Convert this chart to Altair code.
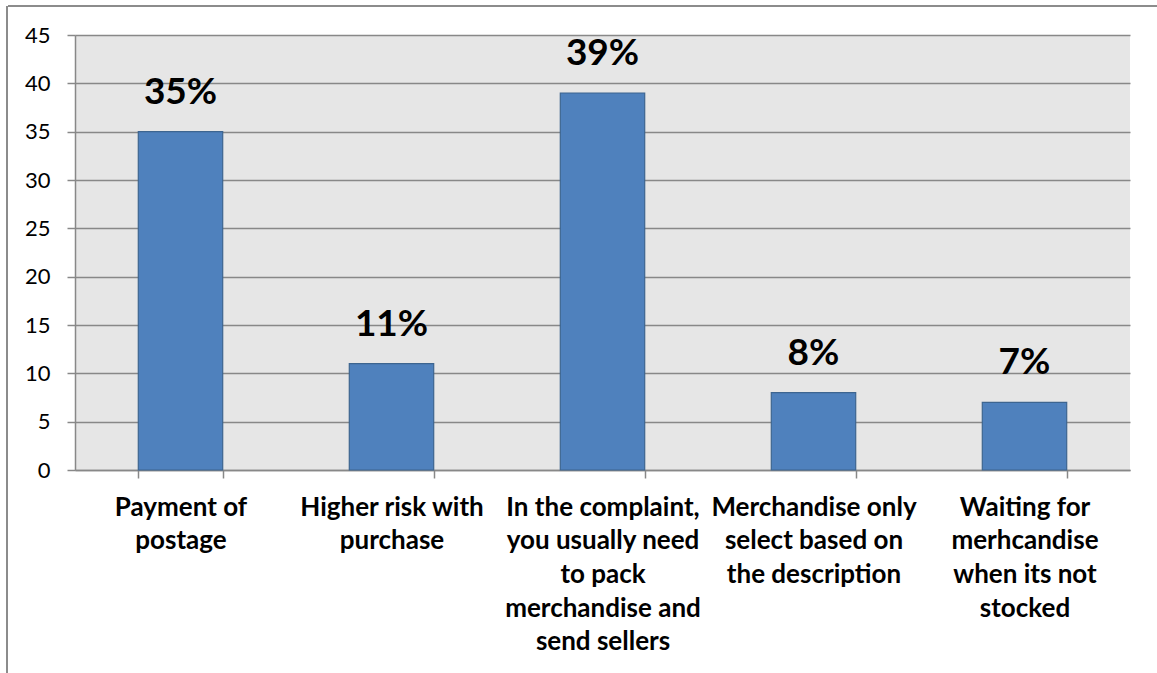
import altair as alt
import pandas as pd

# Data
category_lines = [
    ["Payment of", "postage"],
    ["Higher risk with", "purchase"],
    ["In the complaint,", "you usually need", "to pack", "merchandise and", "send sellers"],
    ["Merchandise only", "select based on", "the description"],
    ["Waiting for", "merhcandise", "when its not", "stocked"],
]
values = [35, 11, 39, 8, 7]
value_labels = ["35%", "11%", "39%", "8%", "7%"]
y_ticks = [0, 5, 10, 15, 20, 25, 30, 35, 40, 45]

categories = ["|".join(lines) for lines in category_lines]
df = pd.DataFrame({"cat": categories, "value": values, "label": value_labels})

FONT = "Lato"
GRID = "#888888"

x_enc = alt.X(
    "cat:N",
    sort=categories,
    scale=alt.Scale(paddingInner=0.6, paddingOuter=0.3),
    axis=alt.Axis(
        title=None,
        labelAngle=0,
        labelExpr="split(datum.label, '|')",
        labelFont=FONT,
        labelFontSize=26,
        labelFontWeight="bold",
        labelColor="black",
        labelLineHeight=33.7,
        labelBaseline="top",
        labelPadding=16,
        labelLimit=400,
        tickBand="extent",
        tickSize=8,
        tickColor=GRID,
        tickWidth=1.5,
        domainColor=GRID,
        domainWidth=1.5,
        grid=False,
    ),
)
y_enc = alt.Y(
    "value:Q",
    scale=alt.Scale(domain=[0, 45], nice=False),
    axis=alt.Axis(
        title=None,
        values=y_ticks,
        labelFont=FONT,
        labelFontSize=22,
        labelColor="black",
        labelPadding=17,
        tickSize=8,
        tickColor=GRID,
        tickWidth=1.5,
        domainColor=GRID,
        domainWidth=1.5,
        gridColor=GRID,
        gridWidth=1.5,
    ),
)

bars = alt.Chart(df).mark_bar(
    color="#4f81bd", stroke="#3d6590", strokeWidth=1.2
).encode(x=x_enc, y=y_enc)

text = alt.Chart(df).mark_text(
    font=FONT, fontSize=37, fontWeight="bold", baseline="bottom", dy=-20, color="black"
).encode(x=alt.X("cat:N", sort=categories), y="value:Q", text="label:N")

frame_top = alt.Chart(df).mark_rule(color="#8c8c8c", strokeWidth=1.5).encode(
    x=alt.value(-67), x2=alt.value(1085), y=alt.value(-29)
)
frame_left = alt.Chart(df).mark_rule(color="#8c8c8c", strokeWidth=1.5).encode(
    x=alt.value(-68), y=alt.value(-29), y2=alt.value(640)
)

chart = alt.layer(bars, text, frame_top, frame_left).properties(
    width=1055,
    height=435,
    padding={"left": 75, "top": 35, "right": 27, "bottom": 203},
    autosize=alt.AutoSizeParams(type="none"),
    background="white",
).configure_view(fill="#e6e6e6", stroke=None)

chart.save("out.html", embed_options={"renderer": "svg", "actions": False})
